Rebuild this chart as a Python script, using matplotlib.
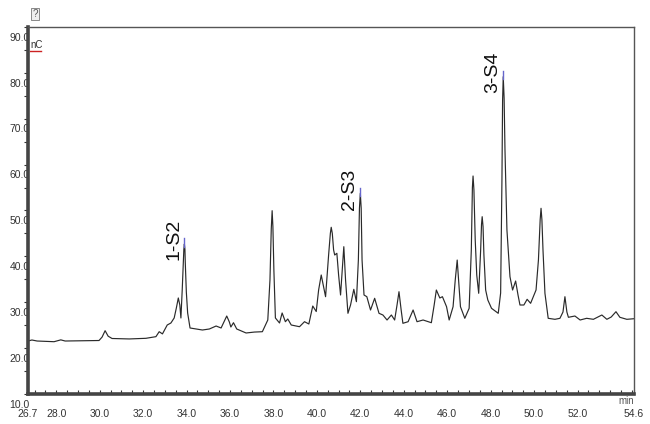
import numpy as np
import matplotlib
matplotlib.use("Agg")
import matplotlib.pyplot as plt
from matplotlib.ticker import MultipleLocator, FixedLocator
from matplotlib.transforms import ScaledTranslation

plt.rcParams['font.family'] = ['Liberation Sans', 'DejaVu Sans']

# retention time (min) and detector signal (nC)
time_min = [
    26.70, 26.88, 27.12, 27.90, 28.21, 28.41, 29.97, 30.11, 30.25, 30.39,
    30.57, 31.36, 32.13, 32.59, 32.74, 32.89, 33.11, 33.28, 33.43, 33.53,
    33.62, 33.69, 33.74, 33.80, 33.85, 33.875, 33.90, 33.925, 33.94, 33.99,
    34.05, 34.16,
    34.44, 34.73, 35.05, 35.36, 35.59, 35.72, 35.85, 35.97, 36.04, 36.16,
    36.31, 36.74, 37.12, 37.49, 37.74, 37.84, 37.90, 37.94, 37.975, 38.02,
    38.09, 38.28,
    38.40, 38.55, 38.66, 38.82, 39.20, 39.43, 39.63, 39.81, 39.97, 40.08,
    40.20, 40.40, 40.54, 40.62, 40.66, 40.71, 40.77, 40.82, 40.92, 41.00,
    41.09, 41.18,
    41.24, 41.32, 41.43, 41.55, 41.70, 41.82, 41.91, 41.96, 42.00, 42.04,
    42.08, 42.17,
    42.30, 42.47, 42.66, 42.86, 43.04, 43.23, 43.43, 43.58, 43.69, 43.78,
    43.88, 43.96, 44.20, 44.43, 44.61, 44.89, 45.27, 45.40, 45.50, 45.66,
    45.78, 45.97, 46.09, 46.27, 46.37, 46.46, 46.54, 46.61, 46.81, 47.01,
    47.11, 47.16, 47.19, 47.23, 47.29, 47.36, 47.45, 47.54, 47.58, 47.61,
    47.65, 47.69, 47.77, 47.87,
    48.04, 48.35, 48.46, 48.52, 48.55, 48.58, 48.62, 48.66, 48.75, 48.89,
    49.01, 49.15,
    49.26, 49.35, 49.53, 49.68, 49.84, 50.09, 50.20, 50.28, 50.32, 50.36,
    50.41, 50.50,
    50.65, 50.96, 51.19, 51.33, 51.42, 51.51, 51.58, 51.88, 52.12, 52.42,
    52.73, 53.12, 53.35, 53.55, 53.77, 53.95, 54.27, 54.60,
]
signal_nc = [
    21.55, 21.77, 21.55, 21.40, 21.80, 21.55, 21.66, 22.40, 23.80, 22.60,
    22.10, 22.00, 22.14, 22.50, 23.58, 23.10, 25.04, 25.48, 26.57, 28.75,
    30.93, 29.40, 26.57, 32.67, 38.77, 41.50, 42.70, 41.50, 38.77, 32.20,
    27.66, 24.39,
    24.17, 23.95, 24.17, 24.82, 24.39, 25.70, 27.00, 25.70, 24.60, 25.54,
    24.17, 23.30, 23.50, 23.58, 26.13, 34.85, 46.00, 49.96, 46.50, 37.03,
    26.57, 25.48,
    27.66, 25.76, 26.35, 25.04, 24.67, 25.76, 25.26, 29.18, 27.98, 32.67,
    35.94, 31.21, 40.30, 45.00, 46.34, 45.00, 41.39, 40.30, 40.67, 35.94,
    31.58, 38.12,
    42.11, 34.85, 27.59, 29.40, 32.82, 30.12, 39.20, 50.50, 53.75, 50.50,
    39.20, 31.58,
    31.21, 28.31, 30.86, 27.59, 27.22, 26.13, 27.22, 26.13, 29.40, 32.30,
    28.31, 25.41, 25.76, 28.31, 25.76, 26.13, 25.54, 29.40, 32.67, 30.93,
    31.21, 29.03, 26.13, 29.03, 34.85, 39.20, 33.76, 29.03, 26.50, 28.68,
    41.39, 55.00, 57.52, 54.50, 43.57, 35.94, 31.95, 41.39, 47.00, 48.65,
    46.50, 40.30, 32.67, 30.49,
    28.68, 27.59, 32.02, 56.65, 74.00, 79.17, 74.50, 63.19, 45.75, 35.57,
    32.67, 34.63,
    31.58, 29.40, 29.40, 30.64, 29.77, 32.67, 39.20, 48.00, 50.48, 48.00,
    41.39, 31.95,
    26.50, 26.28, 26.50, 27.87, 31.21, 27.87, 26.72, 27.00, 26.13, 26.50,
    26.28, 27.22, 26.28, 26.78, 27.94, 26.72, 26.28, 26.41,
]

# labelled peaks
peak_names = ['1-S2', '2-S3', '3-S4']
peak_times = [33.90, 42.00, 48.58]
peak_heights = [42.70, 53.75, 79.17]

x_ticks = [26.7, 28.0, 30.0, 32.0, 34.0, 36.0, 38.0, 40.0, 42.0, 44.0,
           46.0, 48.0, 50.0, 52.0, 54.6]
y_ticks = [10, 20, 30, 40, 50, 60, 70, 80, 90]

fig = plt.figure(figsize=(6.5, 4.24), dpi=100)
ax = fig.add_axes([28 / 650, 30 / 424, 606 / 650, 367 / 424])

ax.plot(time_min, signal_nc, color='#2a2a2a', lw=0.85)

# peak labels with small blue marker on the apex
for name, t, h in zip(peak_names, peak_times, peak_heights):
    ax.plot([t, t], [h - 0.6, h + 1.2], color='#6666cc', lw=1.0)
    ax.annotate(name, xy=(t, h), xytext=(-1.5, 3), textcoords='offset points',
                rotation=90, ha='right', va='center', fontsize=14,
                color='#111111')

ax.set_xlim(26.7, 54.6)
ax.set_ylim(10, 90)

ax.xaxis.set_major_locator(FixedLocator(x_ticks))
ax.set_xticklabels([f"{v:.1f}" for v in x_ticks])
ax.xaxis.set_minor_locator(MultipleLocator(0.5))
ax.yaxis.set_major_locator(FixedLocator(y_ticks))
ax.set_yticklabels([f"{v:.1f}" for v in y_ticks])
ax.yaxis.set_minor_locator(MultipleLocator(5))

ax.tick_params(axis='x', which='both', direction='in', length=3, width=0.8,
               color='#333333', labelsize=7.5, labelcolor='#333333', pad=11)
ax.tick_params(axis='y', which='both', direction='out', length=3, width=0.8,
               color='#333333', labelsize=7.5, labelcolor='#333333', pad=-4)

# y labels hang just below their tick like the original software
for lab in ax.get_yticklabels():
    lab.set_transform(lab.get_transform() +
                      ScaledTranslation(0, -7 / 72, fig.dpi_scale_trans))
    lab.set_zorder(1)

for side in ['left', 'bottom']:
    ax.spines[side].set_linewidth(2.6)
    ax.spines[side].set_color('#444444')
for side in ['top', 'right']:
    ax.spines[side].set_linewidth(1.0)
    ax.spines[side].set_color('#555555')

# unit labels
ax.text(0.004, 0.965, 'nC', transform=ax.transAxes, fontsize=7,
        color='#333333', ha='left', va='top')
ax.plot([0.003, 0.022], [0.935, 0.935], transform=ax.transAxes,
        color='#cc2222', lw=1.0)
ax.text(1.0, -0.005, 'min', transform=ax.transAxes, fontsize=7,
        color='#555555', ha='right', va='top')

# little window icon above the axis
fig.text(35 / 650, 1 - 14 / 424, '?', fontsize=7, color='#555555',
         ha='center', va='center',
         bbox=dict(boxstyle='square,pad=0.15', fc='#eeeeee', ec='#777777',
                   lw=0.6))

fig.savefig('out.png', dpi=100)
